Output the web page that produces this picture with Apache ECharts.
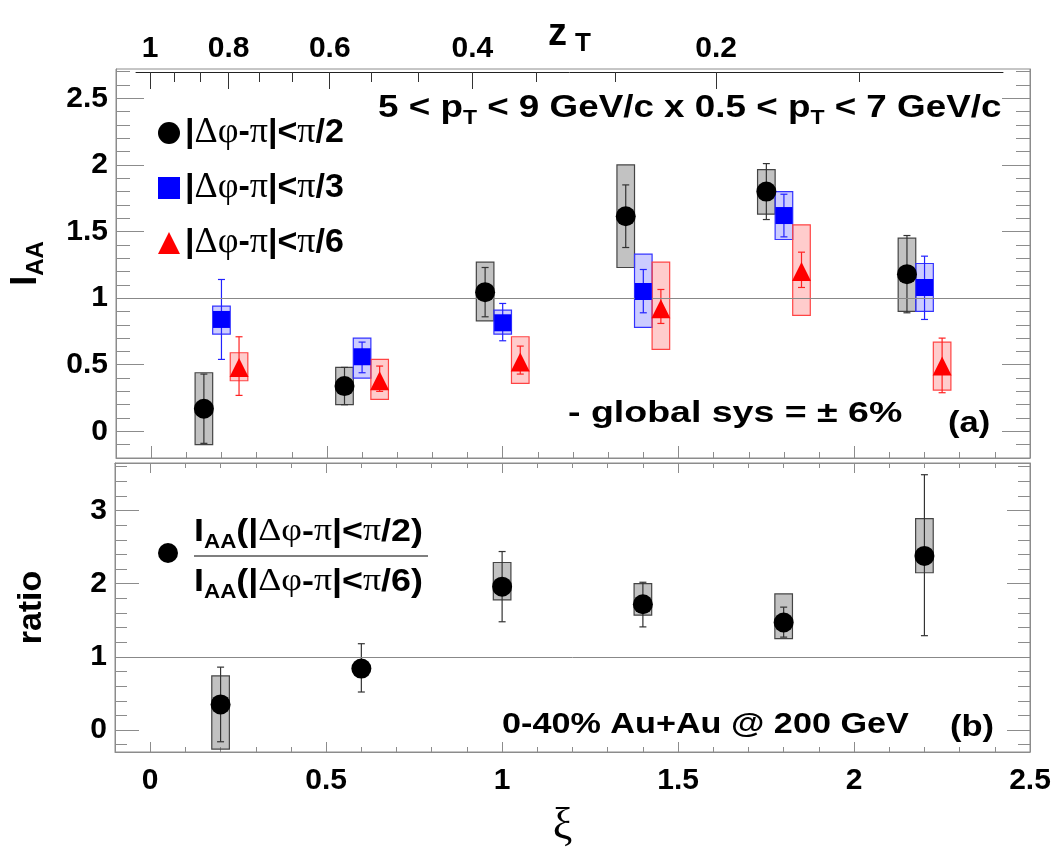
<!DOCTYPE html>
<html>
<head>
<meta charset="utf-8">
<script src="https://cdn.jsdelivr.net/npm/echarts@6/dist/echarts.min.js"></script>
<style>
html, body { margin: 0; padding: 0; background: #fff; }
#chart { width: 1064px; height: 849px; }
</style>
</head>
<body>
<div id="chart"></div>
<script>
// xi positions, one set per dphi window (shifted so the boxes don't overlap)
const xiWide = [0.15, 0.55, 0.95, 1.35, 1.75, 2.15]
const xiMid = [0.2, 0.6, 1.0, 1.4, 1.8, 2.2]
const xiNarrow = [0.25, 0.65, 1.05, 1.45, 1.85, 2.25]

// I_AA for |dphi-pi| < pi/2
const iaaWide = [0.17, 0.34, 1.045, 1.615, 1.80, 1.18]
const iaaWideStat = [[-0.09, 0.43], [0.20, 0.48], [0.86, 1.23], [1.38, 1.85], [1.59, 2.01], [0.89, 1.47]]
const iaaWideSys = [[-0.10, 0.44], [0.20, 0.48], [0.83, 1.27], [1.23, 2.00], [1.63, 1.965], [0.90, 1.45]]

// I_AA for |dphi-pi| < pi/3
const iaaMid = [0.84, 0.56, 0.815, 1.05, 1.62, 1.08]
const iaaMidStat = [[0.54, 1.14], [0.44, 0.67], [0.68, 0.96], [0.89, 1.215], [1.46, 1.78], [0.84, 1.315]]
const iaaMidSys = [[0.73, 0.94], [0.40, 0.70], [0.73, 0.91], [0.78, 1.33], [1.44, 1.80], [0.90, 1.26]]

// I_AA for |dphi-pi| < pi/6
const iaaNarrow = [0.48, 0.38, 0.52, 0.92, 1.20, 0.49]
const iaaNarrowStat = [[0.27, 0.71], [0.30, 0.49], [0.43, 0.64], [0.81, 1.065], [1.08, 1.345], [0.29, 0.70]]
const iaaNarrowSys = [[0.38, 0.59], [0.24, 0.54], [0.36, 0.71], [0.615, 1.27], [0.87, 1.55], [0.31, 0.67]]

// ratio I_AA(pi/2) / I_AA(pi/6)
const ratio = [0.35, 0.84, 1.96, 1.72, 1.47, 2.38]
const ratioStat = [[-0.16, 0.86], [0.52, 1.18], [1.48, 2.44], [1.41, 2.02], [1.27, 1.68], [1.29, 3.49]]
const ratioSys = [[-0.26, 0.74], null, [1.78, 2.29], [1.57, 2.00], [1.25, 1.86], [2.15, 2.89]]

// tick labels
const xiTicks = [0, 0.5, 1, 1.5, 2, 2.5]
const xiLabels = ['0', '0.5', '1', '1.5', '2', '2.5']
const iaaTicks = [0, 0.5, 1, 1.5, 2, 2.5]
const iaaLabels = ['0', '0.5', '1', '1.5', '2', '2.5']
const ratioTicks = [0, 1, 2, 3]
const ratioLabels = ['0', '1', '2', '3']
const zTicks = [1, 0.8, 0.6, 0.4, 0.2]
const zLabels = ['1', '0.8', '0.6', '0.4', '0.2']

const names = ['|Δφ-π|<π/2', '|Δφ-π|<π/3', '|Δφ-π|<π/6']

const FONT = "'Liberation Sans', Arial, Helvetica, sans-serif"
const SERIF = "'Liberation Serif', 'DejaVu Serif', serif"
const FRAME = '#8c8c8c'
const BOX_HALF = 0.025

// minor tick positions (not data, just the tick grid)
function steps(from, to, step, skip) {
  const out = []
  for (let v = from; v <= to + 1e-9; v += step) {
    const r = Math.round(v * 100) / 100
    if (!skip.some(s => Math.abs(s - r) < 1e-6)) out.push(r)
  }
  return out
}
const xiMinor = steps(-0.1, 2.4, 0.1, xiTicks)
const iaaMinor = steps(-0.2, 2.7, 0.1, iaaTicks)
const ratioMinor = steps(-0.2, 3.6, 0.2, ratioTicks)
const zMinor = [14, 13, 11, 10, 8, 7, 5, 4, 2].map(k => -Math.log(k / 15))
const zXi = zTicks.map(z => -Math.log(z))

function lookup(ticks, labels) {
  return v => {
    let best = 0
    ticks.forEach((t, i) => { if (Math.abs(t - v) < Math.abs(ticks[best] - v)) best = i })
    return labels[best]
  }
}

const labelStyle = { fontFamily: FONT, fontWeight: 'bold', fontSize: 30, color: '#000' }

function axis(o) {
  return {
    type: 'value',
    gridIndex: o.grid,
    position: o.pos,
    min: o.min,
    max: o.max,
    axisLine: { show: !!o.line, onZero: false, lineStyle: { color: o.lineColor || FRAME, width: 1 } },
    axisTick: { show: true, inside: true, length: o.len, customValues: o.ticks, lineStyle: { color: o.tickColor || FRAME, width: 1 } },
    axisLabel: o.labels
      ? Object.assign({ show: true, customValues: o.ticks, margin: o.margin, formatter: lookup(o.ticks, o.labels) }, labelStyle)
      : { show: false },
    splitLine: { show: false },
    name: o.name || '',
    nameLocation: 'middle',
    nameGap: o.nameGap || 0,
    nameRotate: o.nameRotate || 0,
    nameMoveOverlap: false,
    nameTextStyle: o.nameTextStyle || {}
  }
}

function withErrors(xs, ys, stat, sys) {
  return xs.map((x, i) => [x, ys[i], stat[i][0], stat[i][1],
    sys[i] ? sys[i][0] : NaN, sys[i] ? sys[i][1] : NaN])
}

function errorRender(barColor, boxFill, boxStroke) {
  return function (params, api) {
    const x = api.value(0)
    const children = []
    const lo = api.value(4), hi = api.value(5)
    if (!isNaN(lo) && !isNaN(hi)) {
      const a = api.coord([x - BOX_HALF, hi])
      const b = api.coord([x + BOX_HALF, lo])
      children.push({
        type: 'rect',
        shape: { x: a[0], y: a[1], width: b[0] - a[0], height: b[1] - a[1] },
        style: { fill: boxFill, stroke: boxStroke, lineWidth: 1.2 }
      })
    }
    const top = api.coord([x, api.value(3)])
    const bot = api.coord([x, api.value(2)])
    const cap = 3.5
    const line = { stroke: barColor, lineWidth: 1.2 }
    children.push({ type: 'line', shape: { x1: top[0], y1: top[1], x2: bot[0], y2: bot[1] }, style: line })
    children.push({ type: 'line', shape: { x1: top[0] - cap, y1: top[1], x2: top[0] + cap, y2: top[1] }, style: line })
    children.push({ type: 'line', shape: { x1: bot[0] - cap, y1: bot[1], x2: bot[0] + cap, y2: bot[1] }, style: line })
    return { type: 'group', children }
  }
}

const unitLine = {
  silent: true,
  symbol: ['none', 'none'],
  label: { show: false },
  lineStyle: { color: '#888', width: 1, type: 'solid' },
  data: [{ yAxis: 1 }]
}

const chart = echarts.init(document.getElementById('chart'))

const sub = { fontFamily: FONT, fontWeight: 'bold', fontSize: 20, color: '#000', verticalAlign: 'bottom', lineHeight: 40, padding: [12, 0, 0, 0] }
const big = { fontFamily: FONT, fontWeight: 'bold', fontSize: 32, color: '#000', lineHeight: 40 }
const greek = { fontFamily: SERIF, fontSize: 32, color: '#000', lineHeight: 40 }

function richGreek(s) {
  return s.split('').map(ch => ('Δφπ'.indexOf(ch) >= 0 ? '{g|' : '{b|') + ch + '}').join('')
}

function note(text, x, y, sx) {
  return {
    type: 'group', x: x, y: y, scaleX: sx,
    children: [{ type: 'text', style: { text: text, font: 'bold 30px ' + FONT, fill: '#000', verticalAlign: 'middle' } }]
  }
}

chart.setOption({
  animation: false,
  backgroundColor: '#fff',
  grid: [
    { left: 115, right: 34, top: 69, height: 389, show: true, borderColor: FRAME, borderWidth: 1, backgroundColor: 'transparent' },
    { left: 115, right: 34, top: 463, height: 302, show: true, borderColor: FRAME, borderWidth: 1, backgroundColor: 'transparent' },
    { left: 136, right: 61, top: 72, height: 1, show: false }
  ],
  xAxis: [
    // top panel (a)
    axis({ grid: 0, pos: 'bottom', min: -0.1, max: 2.5, ticks: xiTicks, len: 12, line: true }),
    axis({ grid: 0, pos: 'bottom', min: -0.1, max: 2.5, ticks: xiMinor, len: 6 }),
    // bottom panel (b)
    axis({ grid: 1, pos: 'bottom', min: -0.1, max: 2.5, ticks: xiTicks, len: 10, line: true, labels: xiLabels, margin: 14,
      name: 'ξ', nameGap: 52, nameTextStyle: { fontFamily: SERIF, fontSize: 44, color: '#000', padding: [0, 20, 0, 0] } }),
    axis({ grid: 1, pos: 'bottom', min: -0.1, max: 2.5, ticks: xiMinor, len: 5 }),
    axis({ grid: 1, pos: 'top', min: -0.1, max: 2.5, ticks: xiTicks, len: 10, line: true }),
    axis({ grid: 1, pos: 'top', min: -0.1, max: 2.5, ticks: xiMinor, len: 5 }),
    // z_T axis on top
    axis({ grid: 2, pos: 'top', min: -0.04, max: 2.425, ticks: zXi, len: 17, line: true, lineColor: '#222', tickColor: '#333',
      labels: zLabels, margin: 8, name: '{z|z}{t|T}', nameGap: 15,
      nameTextStyle: { rich: {
        z: { fontFamily: FONT, fontWeight: 'bold', fontSize: 38, color: '#000', lineHeight: 44 },
        t: { fontFamily: FONT, fontWeight: 'bold', fontSize: 26, color: '#000', lineHeight: 44, verticalAlign: 'bottom', padding: [18, 0, 0, 8] }
      } } }),
    axis({ grid: 2, pos: 'top', min: -0.04, max: 2.425, ticks: zMinor, len: 10, tickColor: '#333' })
  ],
  yAxis: [
    axis({ grid: 0, pos: 'left', min: -0.2, max: 2.72, ticks: iaaTicks, len: 28, line: true, labels: iaaLabels, margin: 8,
      name: '{i|I}{a|AA}', nameGap: 68, nameRotate: 90,
      nameTextStyle: { rich: {
        i: { fontFamily: FONT, fontWeight: 'bold', fontSize: 36, color: '#000', lineHeight: 44 },
        a: { fontFamily: FONT, fontWeight: 'bold', fontSize: 24, color: '#000', lineHeight: 44, verticalAlign: 'bottom', padding: [14, 0, 0, 0] }
      } } }),
    axis({ grid: 0, pos: 'left', min: -0.2, max: 2.72, ticks: iaaMinor, len: 14 }),
    axis({ grid: 0, pos: 'right', min: -0.2, max: 2.72, ticks: iaaTicks, len: 28, line: true }),
    axis({ grid: 0, pos: 'right', min: -0.2, max: 2.72, ticks: iaaMinor, len: 14 }),
    axis({ grid: 1, pos: 'left', min: -0.3, max: 3.65, ticks: ratioTicks, len: 24, line: true, labels: ratioLabels, margin: 8,
      name: 'ratio', nameGap: 66, nameRotate: 90,
      nameTextStyle: { fontFamily: FONT, fontWeight: 'bold', fontSize: 34, color: '#000' } }),
    axis({ grid: 1, pos: 'left', min: -0.3, max: 3.65, ticks: ratioMinor, len: 12 }),
    axis({ grid: 1, pos: 'right', min: -0.3, max: 3.65, ticks: ratioTicks, len: 23, line: true }),
    axis({ grid: 1, pos: 'right', min: -0.3, max: 3.65, ticks: ratioMinor, len: 12 }),
    { type: 'value', gridIndex: 2, show: false, min: 0, max: 1 }
  ],
  legend: {
    data: names,
    orient: 'vertical',
    left: 153,
    top: 110,
    itemWidth: 22,
    itemHeight: 22,
    itemGap: 19,
    selectedMode: false,
    formatter: name => richGreek(name),
    textStyle: {
      rich: {
        b: { fontFamily: FONT, fontWeight: 'bold', fontSize: 34, color: '#000', lineHeight: 36 },
        g: { fontFamily: SERIF, fontSize: 36, color: '#000', lineHeight: 36 }
      }
    }
  },
  graphic: [
    {
      type: 'group', x: 378, y: 108, scaleX: 1.15,
      children: [{
        type: 'text',
        style: {
          text: '{b|5 < p}{s|T}{b| < 9 GeV/c x 0.5 < p}{s|T}{b| < 7 GeV/c}',
          verticalAlign: 'middle',
          rich: { b: big, s: sub }
        }
      }]
    },
    note('- global sys = ± 6%', 568, 414, 1.25),
    note('(a)', 948, 424, 1.15),
    note('0-40% Au+Au @ 200 GeV', 502, 725, 1.14),
    note('(b)', 950, 728, 1.15),
    // legend of panel (b)
    { type: 'circle', shape: { cx: 168, cy: 553, r: 10 }, style: { fill: '#000' } },
    {
      type: 'group', x: 194, y: 532, scaleX: 1.12,
      children: [{
        type: 'text',
        style: {
          text: '{b|I}{s|AA}' + richGreek('(|Δφ-π|<π/2)'),
          verticalAlign: 'middle',
          rich: { b: big, s: sub, g: greek }
        }
      }]
    },
    { type: 'line', shape: { x1: 194, y1: 556, x2: 428, y2: 556 }, style: { stroke: '#555', lineWidth: 1.5 } },
    {
      type: 'group', x: 194, y: 582, scaleX: 1.12,
      children: [{
        type: 'text',
        style: {
          text: '{b|I}{s|AA}' + richGreek('(|Δφ-π|<π/6)'),
          verticalAlign: 'middle',
          rich: { b: big, s: sub, g: greek }
        }
      }]
    }
  ],
  series: [
    {
      type: 'custom', name: 'err0', xAxisIndex: 0, yAxisIndex: 0,
      renderItem: errorRender('#333', 'rgba(120,120,120,0.45)', '#444'),
      encode: { x: 0, y: 1 },
      data: withErrors(xiWide, iaaWide, iaaWideStat, iaaWideSys),
      markLine: unitLine
    },
    {
      type: 'custom', name: 'err1', xAxisIndex: 0, yAxisIndex: 0,
      renderItem: errorRender('#2222ff', 'rgba(0,0,255,0.2)', '#3333ff'),
      encode: { x: 0, y: 1 },
      data: withErrors(xiMid, iaaMid, iaaMidStat, iaaMidSys)
    },
    {
      type: 'custom', name: 'err2', xAxisIndex: 0, yAxisIndex: 0,
      renderItem: errorRender('#ff2222', 'rgba(255,0,0,0.2)', '#ff4444'),
      encode: { x: 0, y: 1 },
      data: withErrors(xiNarrow, iaaNarrow, iaaNarrowStat, iaaNarrowSys)
    },
    {
      type: 'custom', name: 'errRatio', xAxisIndex: 2, yAxisIndex: 4,
      renderItem: errorRender('#333', 'rgba(120,120,120,0.45)', '#444'),
      encode: { x: 0, y: 1 },
      data: withErrors(xiMid, ratio, ratioStat, ratioSys),
      markLine: unitLine
    },
    {
      type: 'scatter', name: names[0], xAxisIndex: 0, yAxisIndex: 0, z: 5,
      symbol: 'circle', symbolSize: 20, itemStyle: { color: '#000', opacity: 1 },
      data: xiWide.map((x, i) => [x, iaaWide[i]])
    },
    {
      type: 'scatter', name: names[1], xAxisIndex: 0, yAxisIndex: 0, z: 5,
      symbol: 'rect', symbolSize: 17, itemStyle: { color: '#0000ff', opacity: 1 },
      data: xiMid.map((x, i) => [x, iaaMid[i]])
    },
    {
      type: 'scatter', name: names[2], xAxisIndex: 0, yAxisIndex: 0, z: 5,
      symbol: 'triangle', symbolSize: 19, itemStyle: { color: '#ff0000', opacity: 1 },
      data: xiNarrow.map((x, i) => [x, iaaNarrow[i]])
    },
    {
      type: 'scatter', name: 'ratio', xAxisIndex: 2, yAxisIndex: 4, z: 5,
      symbol: 'circle', symbolSize: 20, itemStyle: { color: '#000', opacity: 1 },
      data: xiMid.map((x, i) => [x, ratio[i]])
    }
  ]
})
</script>
</body>
</html>
